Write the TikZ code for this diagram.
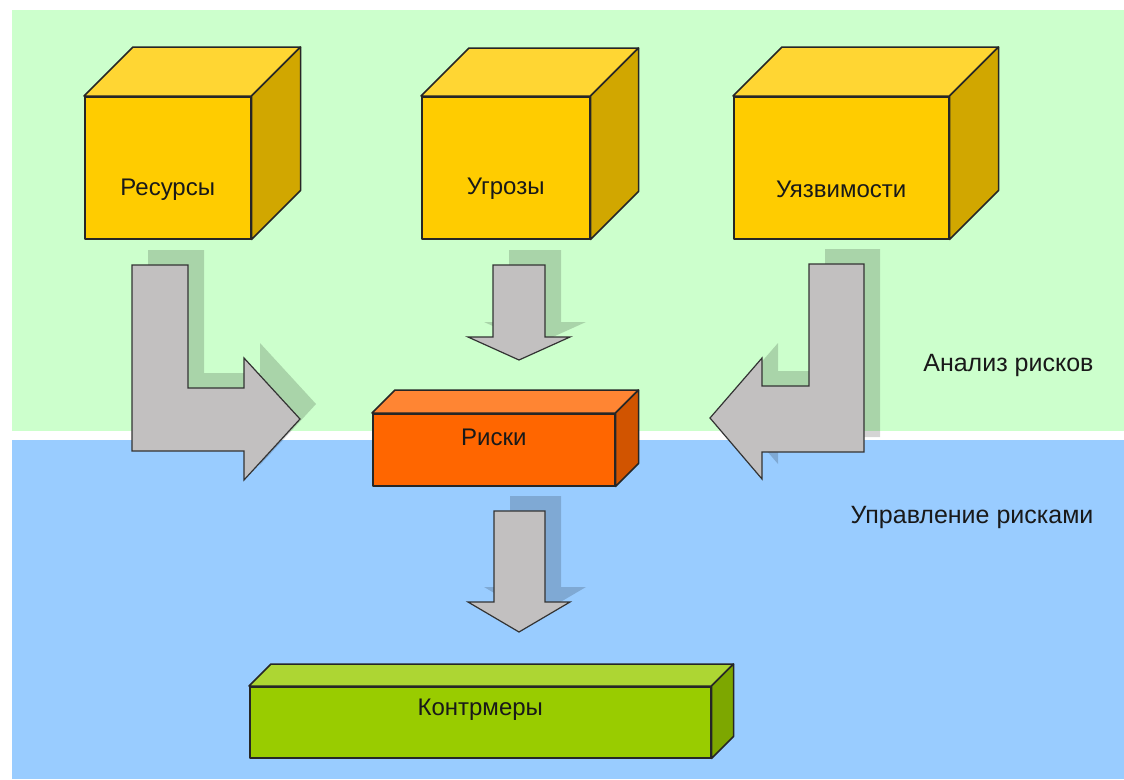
\documentclass[tikz,border=0pt]{standalone}
\usepackage{fontspec}
\setmainfont{Liberation Sans}
\usetikzlibrary{positioning}

\definecolor{analysisbg}{HTML}{CCFFCC}
\definecolor{controlbg}{HTML}{99CCFF}
\definecolor{goldbox}{HTML}{FFCC00}
\definecolor{riskbox}{HTML}{FF6600}
\definecolor{measurebox}{HTML}{99CC00}
\definecolor{arrowgrey}{HTML}{C2C0C0}

% front face as a node, top and side faces from its anchors
\newcommand{\solidblock}[6]{%
  \node[block, fill=#6, minimum width=#3pt, minimum height=#4pt] (#1) at #2 {};
  \filldraw[face, fill=#6!80!white] (#1.north west) -- ++(#5,-#5)
    -- ([shift={(#5,-#5)}]#1.north east) -- (#1.north east) -- cycle;
  \filldraw[face, fill=#6!82!black] (#1.north east) -- ++(#5,-#5)
    -- ([shift={(#5,-#5)}]#1.south east) -- (#1.south east) -- cycle;
}

\begin{document}
\begin{tikzpicture}[x=1pt,y=-1pt,
  face/.style={draw=black!85, line width=1.5pt, line join=round},
  block/.style={face, inner sep=0pt, anchor=north west},
  lbl/.style={font=\fontsize{24}{28}\selectfont, text=black!90},
  zone/.style={font=\fontsize{25}{30}\selectfont, text=black!90, anchor=east},
  barrow/.style={fill=arrowgrey, draw=black!80, line width=1.2pt, line join=miter},
  shade/.style={fill=black, opacity=0.17}]
\useasboundingbox (0,0) rectangle (1124,779);
\fill[white] (0,0) rectangle (1124,779);
\fill[analysisbg] (12,10) rectangle (1124,431);
\fill[controlbg] (12,440) rectangle (1124,779);

% zones
\node[zone] (analysis) at (1097,365) {Анализ рисков};
\node[zone] (control) at (1097,517) {Управление рисками};

% shadows of the arrows
\begin{scope}[shift={(16,-15)}]
\fill[shade] (132,265) -- (188,265) -- (188,388) -- (244,388) -- (244,358) -- (300,419)
  -- (244,480) -- (244,451) -- (132,451) -- cycle;
\fill[shade] (493,265) -- (545,265) -- (545,337) -- (570,337) -- (519,360) -- (468,337)
  -- (493,337) -- cycle;
\fill[shade] (864,264) -- (809,264) -- (809,386) -- (762,386) -- (762,358) -- (710,418)
  -- (762,479) -- (762,452) -- (864,452) -- cycle;
\fill[shade] (494,511) -- (545,511) -- (545,602) -- (570,602) -- (519,632) -- (468,602)
  -- (494,602) -- cycle;
\end{scope}

% arrows
\filldraw[barrow] (132,265) -- (188,265) -- (188,388) -- (244,388) -- (244,358) -- (300,419)
  -- (244,480) -- (244,451) -- (132,451) -- cycle;
\filldraw[barrow] (493,265) -- (545,265) -- (545,337) -- (570,337) -- (519,360) -- (468,337)
  -- (493,337) -- cycle;
\filldraw[barrow] (864,264) -- (809,264) -- (809,386) -- (762,386) -- (762,358) -- (710,418)
  -- (762,479) -- (762,452) -- (864,452) -- cycle;
\filldraw[barrow] (494,511) -- (545,511) -- (545,602) -- (570,602) -- (519,632) -- (468,602)
  -- (494,602) -- cycle;

% blocks
\solidblock{res}{(84,96)}{166}{142}{49}{goldbox}
\solidblock{thr}{(421,96)}{168}{142}{48}{goldbox}
\solidblock{vul}{(733,96)}{215}{142}{49}{goldbox}
\solidblock{risk}{(372,413)}{242}{72}{23}{riskbox}
\solidblock{cm}{(249,686)}{461}{71}{22}{measurebox}

\node[lbl] (resT) at ([yshift=-22pt]res.center) {Ресурсы};
\node[lbl] (thrT) at ([yshift=-21pt]thr.center) {Угрозы};
\node[lbl] (vulT) at ([yshift=-22pt]vul.center) {Уязвимости};
\node[lbl] (riskT) at ([yshift=12pt]risk.center) {Риски};
\node[lbl] (cmT) at ([yshift=13pt]cm.center) {Контрмеры};
\end{tikzpicture}
\end{document}
